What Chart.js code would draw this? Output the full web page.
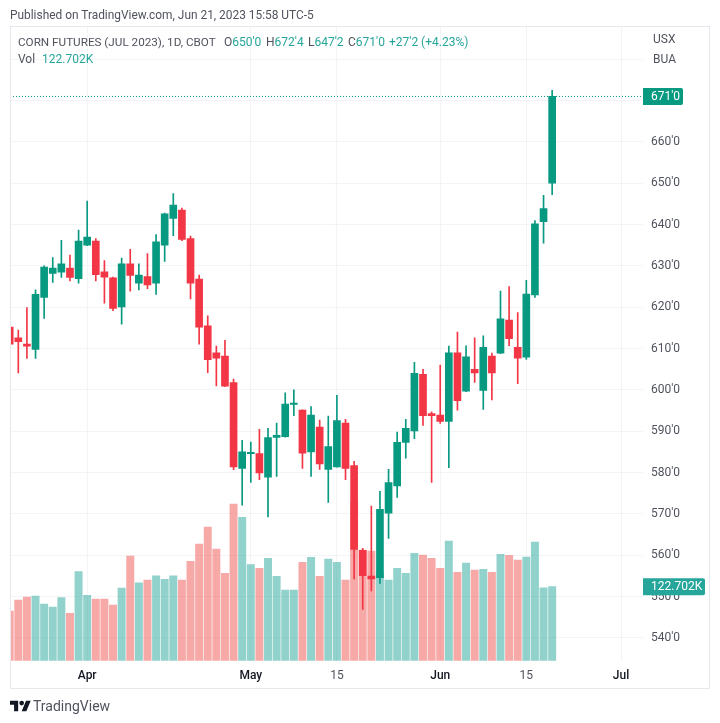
<!DOCTYPE html>
<html>
<head>
<meta charset="utf-8">
<script src="https://cdn.jsdelivr.net/npm/chart.js@4"></script>
<style>
  html, body { margin: 0; padding: 0; background: #fff; }
  body { width: 720px; height: 723px; position: relative; overflow: hidden; font-family: Roboto, sans-serif; color: #50535e; }
  canvas { position: absolute; left: 0; top: 0; }
  .t { position: absolute; white-space: pre; font-size: 12px; line-height: 14px; }
  .g { color: #26a69a; }
</style>
</head>
<body>
<canvas id="chart" width="720" height="723"></canvas>
<div class="t" style="left:10px;top:8px;font-size:11.9px;">Published on TradingView.com, Jun 21, 2023 15:58 UTC-5</div>
<div class="t" style="left:18px;top:35px;font-size:11.7px;">CORN FUTURES (JUL 2023), 1D, CBOT</div>
<div class="t" style="left:224px;top:35px;">O<span class="g">650'0</span></div>
<div class="t" style="left:266px;top:35px;">H<span class="g">672'4</span></div>
<div class="t" style="left:308px;top:35px;">L<span class="g">647'2</span></div>
<div class="t" style="left:348px;top:35px;">C<span class="g">671'0</span></div>
<div class="t g" style="left:389px;top:35px;">+27'2 (+4.23%)</div>
<div class="t" style="left:18px;top:52px;">Vol</div>
<div class="t g" style="left:42px;top:52px;">122.702K</div>
<div class="t" style="left:653px;top:32px;">USX</div>
<div class="t" style="left:653px;top:52px;">BUA</div>
<svg style="position:absolute;left:10px;top:699px;" width="21" height="14" viewBox="0 2 36 22">
  <path fill="#131722" d="M14 22H7V11H0V4h14v18zM28 22h-8l7.5-18h8L28 22z"/><circle fill="#131722" cx="20" cy="8" r="4"/>
</svg>
<div class="t" style="left:33px;top:698px;font-size:14px;line-height:16px;color:#50535e;">TradingView</div>
<script>
const opens = [615.2, 612.6, 611.1, 609.8, 622.4, 628.2, 628.5, 629.5, 626.9, 635, 636, 628.6, 627.1, 620.1, 630.5, 625.8,
  627.4, 625.8, 635, 641.5, 643.5, 636.6, 626.8, 615.5, 609, 608.2, 601.8, 581, 584.6, 584.6, 578.9, 588.5,
  588.7, 596.5, 595.1, 585, 591, 580.8, 581.4, 592, 581.7, 561.2, 555, 554.6, 570.2, 576.8, 587.3, 590.1,
  603.8, 594.3, 593.9, 592.4, 609, 599.7, 605, 599.9, 608.2, 608.9, 616.9, 610.3, 607.9, 623, 640.7, 650];
const highs = [615.3, 614.5, 619.9, 624.2, 630, 632, 636.2, 632.6, 638.7, 645.7, 636.6, 631.3, 627.3, 631.9, 634, 630.5,
  633, 637.6, 642.8, 647.5, 644, 637.2, 627.8, 617.9, 610.6, 612, 602.6, 587.8, 587.4, 590.5, 590.7, 592,
  599.3, 600, 595.2, 596, 592.7, 593.7, 598.7, 592.9, 582.7, 561.7, 571.9, 575.5, 580.8, 589.8, 592.9, 606.7,
  605, 594.7, 606, 610.6, 614, 610.7, 612.6, 613.1, 608.9, 623.9, 625, 618.7, 626.5, 641, 647.1, 672.5];
const lows = [611, 604.1, 607.6, 607.6, 617.3, 626, 627.2, 626.4, 625.8, 634.9, 626.4, 621, 619.2, 615.9, 623.9, 624.2,
  624.5, 623.1, 631.1, 637.3, 636.1, 622, 611.1, 604.2, 601, 600.8, 580.7, 572.1, 577.6, 578.3, 569.3, 579.1,
  588.6, 593.8, 581, 579.1, 580.8, 572.8, 581.3, 578.3, 554.3, 546.9, 551.4, 553.2, 564.1, 574, 583.5, 588.2,
  591.4, 577.6, 591.9, 581.2, 595.1, 599.6, 601.8, 595.3, 597.6, 608.8, 610.7, 601.5, 607.4, 622.4, 635.5, 647.25];
const closes = [611.1, 611.7, 610.6, 623.1, 629.7, 629.5, 630.5, 627.2, 636, 637, 627.9, 627.3, 619.7, 630.5, 627.7, 627.8,
  625.4, 635.8, 642.6, 644.7, 636.4, 625.8, 615.2, 607.3, 607.7, 600.9, 581.4, 585, 584.9, 579.9, 588.5, 589,
  596.6, 596.6, 584.7, 593.9, 582.1, 586.3, 592.6, 581, 561.4, 555.1, 554.3, 571.1, 577.6, 587.3, 590.7, 604,
  593.8, 593.8, 592.4, 609, 597.4, 608, 604.1, 610.3, 604.1, 617.2, 612.4, 607.7, 623.2, 640.2, 643.9, 671];
const volumes = [82.4, 100.6, 105.6, 107.2, 94, 89, 104.5, 78.5, 147.6, 108.3, 102.2, 102.2, 92.3, 120.5, 173.5, 129.3,
  133.8, 140.9, 134.9, 140.9, 133.8, 164.7, 193.4, 221.6, 185.2, 144.8, 259.8, 237.7, 159.2, 153.1, 169.7, 139.8,
  117.2, 117.2, 163, 171.3, 139.8, 168.6, 163, 133.8, 262, 183.5, 181.8, 147.6, 133.8, 153.1, 144.8, 178,
  175.2, 169.7, 153.1, 198.4, 146.5, 161.9, 150.3, 151.4, 146.5, 176.3, 174.7, 166.9, 171.9, 196.8, 121, 122.702];
const timeTickBars = [9, 28, 38, 50, 60, 71];
const timeTickLabels = ["Apr", "May", "15", "Jun", "15", "Jul"];
const priceTicks = [540, 550, 560, 570, 580, 590, 600, 610, 620, 630, 640, 650, 660, 670, 680];
const lastPriceLabel = "671'0";
const lastVolumeLabel = "122.702K";

const UP = "#089981", DOWN = "#f23645";
const isUp = i => closes[i] >= opens[i];
const XMIN = 0.035, XMAX = 73.55;

// price + volume tags on the right axis, and the outer frame
const overlay = {
  id: "overlay",
  afterDraw(chart) {
    const c = chart.ctx, a = chart.chartArea;
    c.save();
    c.strokeStyle = "#e6e8ee";
    c.lineWidth = 1;
    c.strokeRect(10.5, 26.5, 699, 662);
    const tag = (y, text, color, w) => {
      c.fillStyle = color;
      c.beginPath();
      c.roundRect(a.right, y - 8.5, w, 17, [0, 2, 2, 0]);
      c.fill();
      c.fillStyle = "#fff";
      c.font = "12px Roboto";
      c.textAlign = "left";
      c.textBaseline = "middle";
      c.fillText(text, a.right + 8, y + 0.5);
    };
    tag(chart.scales.volume.getPixelForValue(volumes[volumes.length - 1]), lastVolumeLabel, "#26a69a", 62);
    tag(chart.scales.y.getPixelForValue(closes[closes.length - 1]), lastPriceLabel, UP, 40);
    c.restore();
  }
};

new Chart(document.getElementById("chart"), {
  data: {
    datasets: [
      {
        type: "line", order: 0, yAxisID: "y",
        data: [{ x: XMIN, y: closes[closes.length - 1] }, { x: XMAX, y: closes[closes.length - 1] }],
        borderColor: UP, borderWidth: 1, borderDash: [1, 2], pointRadius: 0
      },
      {
        type: "bar", order: 1, yAxisID: "y", grouped: false, barThickness: 7, minBarLength: 1.3,
        data: opens.map((o, i) => ({ x: i, y: [o, closes[i]] })),
        backgroundColor: opens.map((o, i) => isUp(i) ? UP : DOWN)
      },
      {
        type: "bar", order: 2, yAxisID: "y", grouped: false, barThickness: 1,
        data: lows.map((l, i) => ({ x: i, y: [l, highs[i]] })),
        backgroundColor: lows.map((l, i) => isUp(i) ? UP : DOWN)
      },
      {
        type: "bar", order: 3, yAxisID: "volume", grouped: false, barThickness: 7.3,
        data: volumes.map((v, i) => ({ x: i, y: v })),
        backgroundColor: volumes.map((v, i) => isUp(i) ? "rgba(38,166,154,0.5)" : "rgba(239,83,80,0.5)")
      }
    ]
  },
  options: {
    responsive: false,
    animation: false,
    devicePixelRatio: 1,
    layout: { padding: { left: 10, top: 27, right: 10, bottom: 35 } },
    plugins: { legend: { display: false }, tooltip: { enabled: false } },
    scales: {
      x: {
        type: "linear", min: XMIN, max: XMAX, offset: false,
        afterBuildTicks: s => { s.ticks = timeTickBars.map(v => ({ value: v })); },
        afterFit: s => { s.height = 27.3; },
        grid: { color: "#f3f4f6", drawTicks: false, offset: false },
        border: { display: false },
        ticks: {
          autoSkip: false, maxRotation: 0, padding: 8,
          callback: v => timeTickLabels[timeTickBars.indexOf(v)],
          color: ctx => ctx.index === 2 || ctx.index === 4 ? "#50535e" : "#131722",
          font: ctx => ({ family: "Roboto", size: 12, weight: ctx.index === 2 || ctx.index === 4 ? "400" : "500" })
        }
      },
      y: {
        position: "right", min: 534.5, max: 687.8,
        afterBuildTicks: s => { s.ticks = priceTicks.map(v => ({ value: v })); },
        afterFit: s => { s.width = 67; },
        grid: { color: "#f3f4f6", drawTicks: false },
        border: { display: false },
        ticks: {
          padding: 8, color: "#50535e", font: { family: "Roboto", size: 12 },
          callback: v => v >= 670 ? "" : v + "'0"
        }
      },
      volume: { display: false, min: 0, max: 1050.7 }
    }
  },
  plugins: [overlay]
});
</script>
</body>
</html>
